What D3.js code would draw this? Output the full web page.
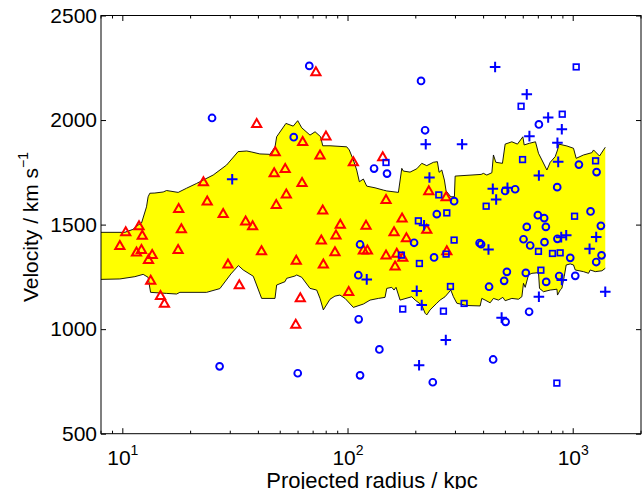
<!DOCTYPE html>
<html><head><meta charset="utf-8">
<script src="https://cdn.jsdelivr.net/npm/d3@7"></script>
<style>
body{margin:0;background:#fff;}
text{font-family:"Liberation Sans",Arial,Helvetica,sans-serif;}
</style></head>
<body><svg id="c" width="644" height="489"></svg>
<script>
// Data (projected radius kpc, velocity km/s)
const bandUpper = [[8,1463],[10.2,1463],[11.08,1477],[11.7,1498],[12.11,1508],[12.74,1585],[12.95,1633],[13.18,1650],[13.88,1651],[15.11,1656],[15.64,1663],[17.61,1654],[19.19,1674],[21.27,1697],[22.75,1713],[25.19,1737],[28.9,1785],[32.5,1849],[35.5,1852],[37.4,1847],[40.6,1838],[45.0,1836],[47.4,1871],[48.2,1920],[53.0,1984],[57.1,1971],[59.8,1997],[62.3,1963],[67.8,1928],[71.4,1944],[75.6,1920],[77.2,1877],[83.2,1877],[98.7,1872],[101.3,1857],[105.6,1809],[109.3,1761],[112.3,1705],[117.0,1718],[121.1,1684],[131.8,1676],[143.5,1665],[148.6,1661],[167.4,1654],[173.3,1769],[176.1,1756],[188.6,1751],[202,1767],[212.6,1793],[223.7,1782],[239.4,1798],[249.4,1801],[253.8,1750],[260.9,1761],[267.9,1713],[272.6,1661],[286,1633],[296.8,1633],[299,1732],[390,1740],[399.3,1745],[413.4,1737],[435.2,1748],[442.4,1833],[453.4,1798],[485,1793],[498.6,1885],[534,1896],[565.4,1885],[597.6,1920],[605.7,1881],[639.4,1889],[680,1896],[701.3,1841],[726.1,1809],[764.2,1761],[790.5,1798],[831.8,1825],[851.6,1857],[863.9,1885],[937.6,1876],[1003,1865],[1031,1817],[1111,1833],[1211,1844],[1231,1857],[1309,1828],[1388,1870]];
const bandLower = [[8,1238],[9.7,1240],[11.31,1251],[12.31,1262],[12.95,1248],[13.28,1176],[15.64,1171],[17.33,1168],[17.92,1176],[23.55,1176],[26.98,1194],[30.2,1264],[32.6,1304],[34.25,1283],[37.95,1253],[41.35,1147],[47.4,1147],[48.2,1211],[52.5,1227],[53.4,1243],[58.1,1254],[59.2,1259],[62.3,1248],[67.8,1195],[72.6,1187],[75.1,1147],[77.7,1092],[83.2,1143],[87.5,1158],[92.1,1163],[97.0,1147],[105.6,1104],[117,1120],[125.3,1139],[136.4,1147],[146,1152],[148.6,1195],[156.4,1200],[160.1,1187],[163.4,1200],[170.3,1139],[191.9,1155],[198.6,1139],[212.6,1115],[219.9,1076],[223.7,1068],[231.4,1092],[247.9,1124],[256.4,1139],[269.8,1155],[286,1187],[293.8,1155],[304.2,1124],[337,1113],[386.1,1111],[392.8,1147],[406.4,1139],[427.7,1126],[442.4,1147],[465.6,1139],[487,1152],[498.6,1136],[534,1147],[571.3,1143],[591.6,1155],[601.4,1219],[612,1200],[632.9,1259],[655.3,1267],[701.3,1270],[708.5,1195],[738.1,1179],[790.5,1187],[846.6,1191],[851.6,1163],[875.1,1187],[890.5,1195],[912,1251],[930.9,1307],[969.8,1312],[1003,1307],[1021,1283],[1111,1275],[1169.5,1267],[1190,1283],[1252.6,1275],[1341.6,1279],[1388,1291]];

const triangles = [[72,2230],[39.3,1983],[62.9,1897],[79.8,1923],[47.5,1848],[75.1,1832],[52.6,1768],[47.0,1747],[22.8,1704],[62.5,1701],[53.2,1646],[23.7,1612],[48.0,1596],[17.7,1577],[77.2,1569],[27.9,1553],[35.1,1517],[37.7,1494],[11.8,1494],[10.3,1465],[12.2,1448],[18.2,1480],[76.1,1426],[9.7,1400],[11.5,1368],[12.1,1381],[13.5,1357],[13.0,1333],[17.6,1381],[41.3,1375],[29.3,1311],[13.3,1233],[32.9,1212],[14.7,1161],[15.3,1123],[58.9,1329],[77.7,1311],[61.4,1150],[58.6,1023],[105.6,1800],[142.6,1824],[228.4,1661],[272.6,1633],[147.5,1620],[173.8,1531],[223.7,1477],[92.4,1501],[120.2,1496],[88.4,1450],[160.1,1465],[181.7,1437],[117,1378],[121.9,1378],[87.5,1370],[147.5,1354],[164.6,1362],[175,1343],[161.8,1301],[274.6,1375],[100.7,1179]];
const circles = [[24.9,2010],[67.3,2259],[57.4,1918],[26.9,822],[59.8,789],[130.5,1768],[149,1744],[247.9,1550],[196.5,1413],[113.1,1405],[241,1343],[111.1,1258],[111.5,1047],[211,2187],[704,1979],[219.9,1951],[1060,1787],[1270,1751],[849,1679],[498.6,1661],[552.4,1669],[295.9,1612],[1194,1563],[1327,1494],[622,1489],[696.7,1545],[743,1531],[756,1489],[1336,1353],[1265,1321],[970,1341],[384,1412],[390,1406],[601.6,1430],[644,1400],[745.6,1416],[851,1432],[507.5,1274],[493.5,1231],[423,1203],[616,1269],[758.6,1226],[866.5,1254],[1021,1255],[637,1083],[501,1035],[137.8,903],[441,855],[113.1,779],[237.9,746]];
const squares = [[147.5,1797],[253,1642],[274.6,1556],[205.3,1518],[172.6,1354],[272.6,1359],[207.5,1314],[175,1096],[265.3,1086],[285,1204],[1031,2254],[587,2066],[894,2028],[595.7,1811],[1257,1805],[410.6,1588],[1014,1540],[295.9,1426],[701,1372],[809,1362],[875,1365],[718.5,1282],[327.8,1123],[846,742]];
const pluses = [[30.6,1717],[229.9,1725],[217.6,1497],[121.1,1238],[201.9,1183],[212.5,1115],[221.4,1884],[450,2254],[622,2123],[774,2012],[890,1956],[639,1923],[321,1884],[851,1891],[857.7,1800],[704,1735],[439.5,1671],[510.5,1676],[454.8,1620],[1265,1441],[1182,1384],[420.5,1381],[884.7,1440],[931,1449],[890,1235],[704,1155],[1388,1179],[481,1055],[271.8,948],[206.8,827]];

const xDomain = [8, 2000];
const yDomain = [500, 2500];
const yTicks = [500, 1000, 1500, 2000, 2500];
const xMajor = [10, 100, 1000];
const xMajorExp = ["1", "2", "3"];

const L = 101, R = 641, T = 15.5, B = 433.7;
const svg = d3.select("#c");
const x = d3.scaleLog().domain(xDomain).range([L, R]);
const y = d3.scaleLinear().domain(yDomain).range([B, T]);

// band
const line = d3.line().x(d => x(d[0])).y(d => y(d[1]));
const poly = bandUpper.concat(bandLower.slice().reverse());
svg.append("path").attr("d", line(poly) + "Z").attr("fill", "#ffff00").attr("stroke", "none");
svg.append("path").attr("d", line(bandUpper)).attr("fill", "none").attr("stroke", "#000").attr("stroke-width", 0.9);
svg.append("path").attr("d", line(bandLower)).attr("fill", "none").attr("stroke", "#000").attr("stroke-width", 0.9);

// markers
const g = svg.append("g");
g.selectAll(".tri").data(triangles).join("path")
  .attr("transform", d => `translate(${x(d[0])},${y(d[1])})`)
  .attr("d", "M0,-4.6L4.6,3.4L-4.6,3.4Z")
  .attr("fill", "none").attr("stroke", "#ff0000").attr("stroke-width", 2);
g.selectAll(".cir").data(circles).join("circle")
  .attr("cx", d => x(d[0])).attr("cy", d => y(d[1])).attr("r", 3.4)
  .attr("fill", "none").attr("stroke", "#0000ff").attr("stroke-width", 1.9);
g.selectAll(".sq").data(squares).join("rect")
  .attr("x", d => x(d[0]) - 2.8).attr("y", d => y(d[1]) - 2.8).attr("width", 5.6).attr("height", 5.6)
  .attr("fill", "none").attr("stroke", "#0000ff").attr("stroke-width", 1.7);
g.selectAll(".pl").data(pluses).join("path")
  .attr("transform", d => `translate(${x(d[0])},${y(d[1])})`)
  .attr("d", "M-5.3,0H5.3M0,-5.3V5.3")
  .attr("fill", "none").attr("stroke", "#0000ff").attr("stroke-width", 2);

// axes box
svg.append("rect").attr("x", L).attr("y", T).attr("width", R - L).attr("height", B - T)
  .attr("fill", "none").attr("stroke", "#000").attr("stroke-width", 1);

// y axis ticks (inward, both sides)
const yAx = svg.append("g").attr("transform", `translate(${L},0)`)
  .call(d3.axisLeft(y).tickValues(yTicks).tickSize(-5).tickPadding(4).tickFormat(d3.format("d")));
yAx.select(".domain").remove();
yAx.selectAll("text").attr("font-size", 21).attr("fill", "#000").attr("font-family", "Liberation Sans, Arial, sans-serif");
const yAxR = svg.append("g").attr("transform", `translate(${R},0)`)
  .call(d3.axisRight(y).tickValues(yTicks).tickSize(-5).tickFormat(""));
yAxR.select(".domain").remove();

// x axis ticks (log, inward on bottom & top)
const allX = x.ticks();
[B, T].forEach((yy, i) => {
  const dir = i === 0 ? -1 : 1;
  svg.append("g").selectAll("line").data(allX).join("line")
    .attr("x1", d => x(d)).attr("x2", d => x(d))
    .attr("y1", yy).attr("y2", d => yy + dir * (xMajor.includes(d) ? 5.5 : 3))
    .attr("stroke", "#000").attr("stroke-width", 1);
});
const xl = svg.append("g");
xMajor.forEach((t, i) => {
  const tx = xl.append("text").attr("x", x(t)).attr("y", 465).attr("text-anchor", "middle")
    .attr("font-size", 21).attr("fill", "#000");
  tx.append("tspan").text("10");
  tx.append("tspan").attr("dy", -10.5).attr("font-size", 14).text(xMajorExp[i]);
});

// titles
svg.append("text").attr("x", (L + R) / 2 + 1).attr("y", 488).attr("text-anchor", "middle")
  .attr("font-size", 22).attr("fill", "#000").text("Projected radius / kpc");
const yt = svg.append("text").attr("transform", `translate(37.5,227) rotate(-90)`).attr("text-anchor", "middle")
  .attr("font-size", 21).attr("fill", "#000");
yt.append("tspan").text("Velocity / km s");
yt.append("tspan").attr("dy", -9.5).attr("font-size", 14).text("\u22121");
</script></body></html>
